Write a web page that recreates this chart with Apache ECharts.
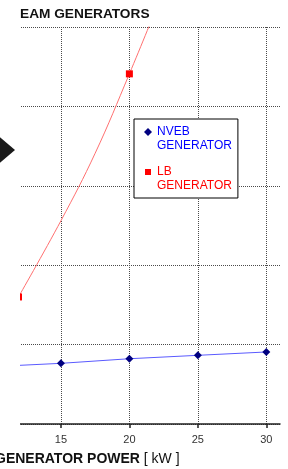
<!DOCTYPE html>
<html>
<head>
<meta charset="utf-8">
<style>
html, body { margin: 0; padding: 0; background: #fff; }
#chart { width: 288px; height: 469px; }
</style>
</head>
<body>
<div id="chart"></div>
<script src="https://cdn.jsdelivr.net/npm/echarts@6/dist/echarts.min.js"></script>
<script>
// x axis: generator power in kW
const xTicks = [15, 20, 25, 30];

// NVEB generator (y axis units = grid rows)
const nvebPower = [11.5, 15, 20, 25, 30];
const nvebValue = [0.735, 0.764, 0.822, 0.865, 0.907];
const nvebMarker = [false, true, true, true, true];

// LB generator (curve, markers only where the picture has them)
const lbPower = [11.9, 15, 17.5, 20, 22];
const lbValue = [1.60, 2.56, 3.41, 4.41, 5.25];
const lbMarker = [true, false, false, true, false];

const font = 'Liberation Sans, Arial, Helvetica, sans-serif';

function buildData(xs, ys, marks, symbol) {
	return xs.map((x, i) => ({
		value: [x, ys[i]],
		symbol: marks[i] ? symbol : 'none'
	}));
}

const chart = echarts.init(document.getElementById('chart'));

chart.setOption({
	animation: false,
	title: {
		text: 'EAM GENERATORS',
		left: 20,
		top: 7,
		padding: 0,
		textStyle: { fontSize: 13.7, fontWeight: 'bold', color: '#111', fontFamily: font }
	},
	grid: { left: 13, right: 8, top: 27, bottom: 45, outerBoundsMode: 'none' },
	legend: {
		orient: 'vertical',
		left: 134,
		top: 119,
		padding: [6, 6, 5, 10],
		itemGap: 12,
		itemWidth: 8,
		itemHeight: 28,
		selectedMode: false,
		backgroundColor: '#fff',
		borderColor: '#000',
		borderWidth: 1,
		borderRadius: 0,
		itemStyle: { borderWidth: 0 },
		formatter: name => name.replace(' ', '\n'),
		textStyle: { fontSize: 12, lineHeight: 14, fontFamily: font },
		data: [
			{
				name: 'NVEB GENERATOR',
				icon: 'path://M4 3L8 7L4 11L0 7Z M0 0L0 0 M8 28L8 28',
				textStyle: { color: '#0000ff' }
			},
			{
				name: 'LB GENERATOR',
				icon: 'path://M1 4L7 4L7 10L1 10Z M0 0L0 0 M8 28L8 28',
				textStyle: { color: '#ff0000' }
			}
		]
	},
	xAxis: {
		type: 'value',
		min: 11.5,
		max: 31,
		axisLine: { lineStyle: { color: '#222', width: 1.5 } },
		axisTick: { customValues: xTicks, length: 4, lineStyle: { color: '#222', width: 1.5 } },
		axisLabel: { customValues: xTicks, margin: 10, fontSize: 11, color: '#333', fontFamily: font },
		splitLine: { show: true, lineStyle: { color: '#4a4a4a', type: [1, 1], width: 1 } }
	},
	yAxis: {
		type: 'value',
		min: 0,
		max: 5,
		interval: 1,
		axisLine: { show: false },
		axisTick: { show: false },
		axisLabel: { show: false },
		splitLine: { show: true, lineStyle: { color: '#4a4a4a', type: [1, 1], width: 1 } }
	},
	series: [
		{
			name: 'NVEB GENERATOR',
			type: 'line',
			data: buildData(nvebPower, nvebValue, nvebMarker, 'diamond'),
			symbolSize: 8,
			itemStyle: { color: '#000080', borderWidth: 0 },
			lineStyle: { color: '#5a5aff', width: 1 },
			emphasis: { disabled: true }
		},
		{
			name: 'LB GENERATOR',
			type: 'line',
			smooth: 0.4,
			data: buildData(lbPower, lbValue, lbMarker, 'rect'),
			symbolSize: 7,
			itemStyle: { color: '#ff0000', borderWidth: 0 },
			lineStyle: { color: '#ff7070', width: 1 },
			emphasis: { disabled: true }
		}
	],
	graphic: [
		// the picture is cropped at the left: mask the plot left of x=20
		{ type: 'rect', shape: { x: 0, y: 22, width: 20, height: 410 }, style: { fill: '#fff' }, z: 100 },
		{ type: 'polygon', shape: { points: [[-1, 136.5], [15, 150], [-1, 163.5]] }, style: { fill: '#1a1a1a' }, z: 101 },
		{
			type: 'text',
			x: -5,
			y: 459,
			z: 101,
			style: {
				text: '{b|GENERATOR POWER} [ kW ]',
				rich: { b: { fontWeight: 'bold', fontSize: 14, fontFamily: font, fill: '#111' } },
				fontSize: 14,
				fontFamily: font,
				fill: '#111',
				verticalAlign: 'middle'
			}
		}
	]
});
</script>
</body>
</html>
